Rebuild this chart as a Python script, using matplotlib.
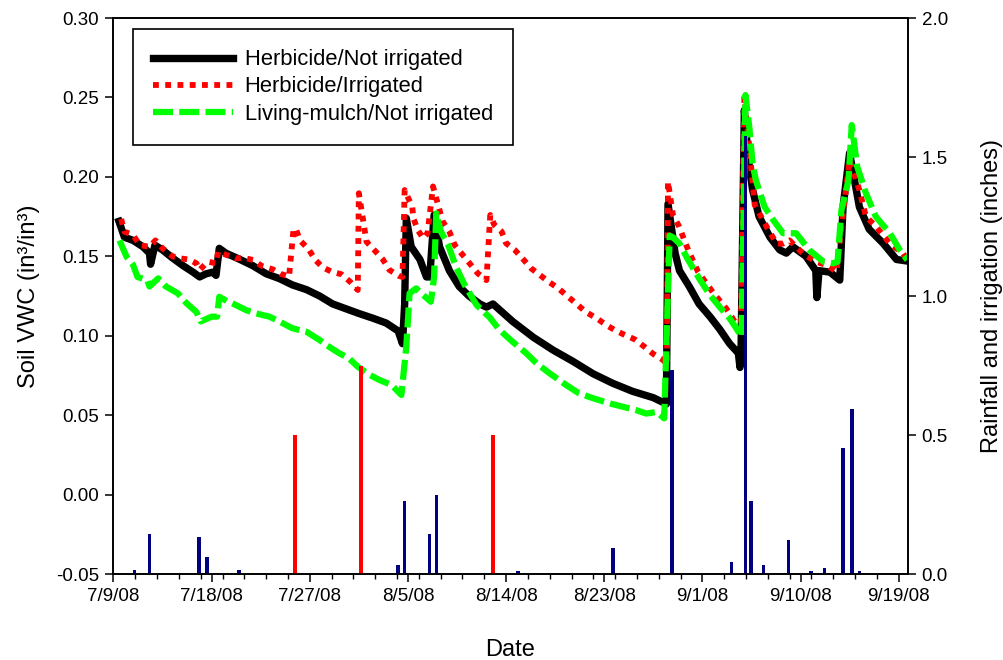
import datetime as dt

import matplotlib
matplotlib.use("Agg")
import matplotlib.pyplot as plt
import matplotlib.dates as mdates
import numpy as np
from matplotlib.ticker import FuncFormatter, FormatStrFormatter

plt.rcParams["font.family"] = ["Liberation Sans", "DejaVu Sans"]
plt.rcParams["axes.unicode_minus"] = False

START = dt.datetime(2008, 7, 9)

# soil water content (days after 7/9/08, in3/in3)
black_day = [0.5, 1.0, 1.8, 2.7, 3.3, 3.4, 3.8, 4.5, 5.4, 6.4, 7.3, 7.9, 8.5, 9.1, 9.4,
             9.7, 10.3, 11.6, 12.8, 14.0, 15.2, 16.4, 17.7, 18.9, 20.1, 21.3, 22.5, 23.8,
             25.0, 26.1, 26.5, 26.7, 26.85, 27.3, 28.1, 28.7, 29.0, 29.4, 29.9, 30.8,
             31.7, 32.6, 33.6, 34.2, 34.8, 36.6, 38.5, 40.3, 42.1, 44.0, 45.8, 47.6,
             49.5, 50.7, 50.85, 51.5, 51.9, 52.8, 53.7, 54.7, 55.6, 56.5, 57.3, 57.45,
             57.55, 57.85, 58.2, 58.6, 59.2, 60.2, 61.1, 61.7, 62.3, 63.5, 64.4, 64.5,
             64.7, 65.7, 66.6, 66.9, 67.5, 68.4, 69.3, 70.6, 71.8, 72.8]
black_vwc = [0.172, 0.162, 0.160, 0.156, 0.152, 0.145, 0.157, 0.154, 0.149, 0.144, 0.140,
             0.137, 0.139, 0.140, 0.138, 0.155, 0.152, 0.148, 0.144, 0.139, 0.136, 0.132,
             0.129, 0.125, 0.120, 0.117, 0.114, 0.111, 0.108, 0.103, 0.095, 0.120, 0.174,
             0.156, 0.148, 0.137, 0.137, 0.176, 0.156, 0.141, 0.131, 0.125, 0.120, 0.118,
             0.120, 0.109, 0.099, 0.091, 0.084, 0.076, 0.070, 0.065, 0.061, 0.057, 0.183,
             0.152, 0.141, 0.131, 0.120, 0.112, 0.104, 0.095, 0.089, 0.080, 0.092, 0.242,
             0.212, 0.192, 0.175, 0.162, 0.154, 0.152, 0.156, 0.150, 0.141, 0.124, 0.141,
             0.140, 0.135, 0.181, 0.215, 0.181, 0.167, 0.158, 0.148, 0.147]

red_day = [0.7, 1.0, 1.8, 2.4, 3.3, 3.85, 4.5, 5.4, 6.1, 6.9, 7.6, 7.9, 8.65, 9.4, 9.6,
           10.3, 11.2, 11.9, 12.8, 13.6, 14.6, 15.3, 16.1, 16.5, 16.7, 17.1, 17.9, 18.5,
           19.2, 20.0, 20.9, 21.7, 22.4, 22.5, 23.2, 24.0, 24.7, 25.3, 26.2, 26.5, 26.7,
           27.4, 27.5, 27.9, 28.4, 28.8, 29.3, 29.9, 30.2, 30.8, 31.3, 31.9, 32.65, 33.4,
           34.2, 34.55, 34.9, 35.6, 36.0, 36.8, 37.5, 38.3, 39.1, 39.9, 40.8, 41.6, 42.4,
           43.3, 44.3, 45.2, 45.95, 46.9, 47.8, 48.7, 49.5, 50.4, 50.75, 50.85, 51.3,
           51.85, 52.7, 53.6, 55.0, 56.2, 56.95, 57.55, 57.85, 58.3, 58.8, 59.9, 60.8,
           61.4, 62.0, 63.2, 64.4, 65.4, 66.3, 66.75, 67.2, 67.5, 68.1, 68.4, 69.0, 69.95,
           71.2, 72.4, 72.8]
red_vwc = [0.1735, 0.1655, 0.1634, 0.157, 0.156, 0.160, 0.155, 0.150, 0.1487, 0.148,
           0.1456, 0.1414, 0.1466, 0.1456, 0.153, 0.151, 0.1487, 0.149, 0.1477, 0.1439,
           0.1418, 0.139, 0.1372, 0.1666, 0.1676, 0.160, 0.1544, 0.1477, 0.143, 0.1403,
           0.1387, 0.134, 0.1288, 0.1897, 0.1592, 0.1533, 0.148, 0.1414, 0.1376, 0.137,
           0.1917, 0.181, 0.174, 0.1666, 0.1613, 0.1645, 0.194, 0.179, 0.1718, 0.1655,
           0.157, 0.1519, 0.1456, 0.1393, 0.135, 0.176, 0.170, 0.1655, 0.1582, 0.154,
           0.1487, 0.1424, 0.1382, 0.134, 0.1298, 0.125, 0.1204, 0.115, 0.111, 0.1067,
           0.1036, 0.1004, 0.0977, 0.093, 0.0885, 0.0847, 0.082, 0.197, 0.176, 0.169,
           0.154, 0.1403, 0.127, 0.117, 0.109, 0.108, 0.250, 0.219, 0.1823, 0.1686, 0.158,
           0.158, 0.160, 0.1519, 0.1466, 0.1445, 0.1403, 0.1686, 0.1938, 0.2106, 0.198,
           0.1917, 0.175, 0.1686, 0.158, 0.1519, 0.1477]

green_day = [0.55, 1.2, 1.8, 2.2, 3.1, 3.3, 4.1, 4.8, 5.9, 6.7, 7.6, 8.0, 9.0, 9.5, 9.7,
             10.5, 10.9, 12.2, 13.1, 14.3, 15.2, 16.4, 17.7, 18.9, 19.5, 20.7, 21.6, 22.4,
             23.5, 24.4, 25.5, 26.4, 26.85, 27.15, 27.75, 28.4, 29.1, 29.4, 29.6, 30.0,
             30.7, 31.4, 32.2, 33.3, 34.5, 35.4, 36.6, 37.85, 38.8, 40.0, 41.5, 42.7,
             44.0, 45.5, 46.7, 47.9, 48.85, 49.8, 50.5, 51.0, 51.3, 51.9, 52.7, 53.8,
             54.7, 55.6, 56.5, 57.1, 57.6, 57.95, 58.3, 58.6, 58.9, 59.7, 60.5, 61.4,
             62.6, 63.8, 65.1, 66.0, 66.4, 66.75, 67.4, 67.7, 68.2, 69.0, 69.9, 71.2,
             72.1, 72.8]
green_vwc = [0.160, 0.1497, 0.1445, 0.137, 0.135, 0.131, 0.1361, 0.131, 0.1267, 0.1204,
             0.115, 0.109, 0.112, 0.112, 0.1245, 0.1214, 0.1204, 0.116, 0.114, 0.112,
             0.109, 0.1047, 0.1025, 0.0973, 0.0942, 0.089, 0.0857, 0.0805, 0.0753, 0.0721,
             0.069, 0.0627, 0.0931, 0.1267, 0.1298, 0.1256, 0.1214, 0.137, 0.177, 0.166,
             0.157, 0.1434, 0.132, 0.1193, 0.1115, 0.1036, 0.0962, 0.089, 0.0826, 0.0763,
             0.069, 0.0637, 0.0606, 0.0574, 0.0553, 0.0532, 0.051, 0.052, 0.048, 0.163,
             0.162, 0.158, 0.1477, 0.135, 0.1256, 0.118, 0.111, 0.1047, 0.0994, 0.2515,
             0.2316, 0.2085, 0.198, 0.1812, 0.1728, 0.1645, 0.1645, 0.154, 0.1466, 0.1456,
             0.1466, 0.179, 0.198, 0.2326, 0.2064, 0.1897, 0.175, 0.1645, 0.154, 0.1477]

# rainfall and irrigation events (days after 7/9/08, inches)
rain_day = [1.93, 3.3, 7.83, 8.57, 11.5, 26.1, 26.7, 29.0, 29.6, 37.1, 45.8, 51.2,
            56.65, 57.96, 58.45, 59.6, 61.9, 63.95, 65.2, 66.9, 67.7, 68.4]
rain_in = [0.015, 0.144, 0.133, 0.062, 0.015, 0.032, 0.263, 0.144, 0.283, 0.012, 0.092,
           0.734, 0.042, 1.576, 0.263, 0.032, 0.122, 0.012, 0.022, 0.452, 0.592, 0.012]
irr_day = [16.67, 22.7, 34.8]
irr_in = [0.5, 0.75, 0.5]

t0 = mdates.date2num(START)


def to_x(days):
    return t0 + np.asarray(days)


fig = plt.figure(figsize=(10.04, 6.6), dpi=100)
ax = fig.add_axes([0.1125, 0.1303, 0.7918, 0.8424])

ax.plot(to_x(black_day), black_vwc, color="black", lw=5.3, label="Herbicide/Not irrigated")
ax.plot(to_x(red_day), red_vwc, color="#ff0000", lw=4.2, linestyle=(0, (1, 1.1)),
        dash_capstyle="butt", label="Herbicide/Irrigated")
ax.plot(to_x(green_day), green_vwc, color="#00ff00", lw=4.5, linestyle=(0, (3.2, 1.0)),
        dash_capstyle="butt", label="Living-mulch/Not irrigated")

ax.set_xlim(t0 - 0.05, t0 + 72.85)
ax.set_ylim(-0.05, 0.30)
ax.set_yticks(np.round(np.arange(-0.05, 0.301, 0.05), 2))
ax.yaxis.set_major_formatter(FormatStrFormatter("%.2f"))

ax.set_xticks(to_x(np.arange(0, 73, 9)))
ax.set_xticks(to_x(np.arange(0, 73, 2)), minor=True)


def date_fmt(v, pos):
    d = mdates.num2date(v)
    return f"{d.month}/{d.day}/{d:%y}"


ax.xaxis.set_major_formatter(FuncFormatter(date_fmt))

ax2 = ax.twinx()
ax2.bar(to_x(rain_day), rain_in, width=0.32, color="#000080")
ax2.bar(to_x(irr_day), irr_in, width=0.4, color="#ff0000")
ax2.set_ylim(0, 2.0)
ax2.set_yticks(np.arange(0, 2.01, 0.5))
ax2.yaxis.set_major_formatter(FormatStrFormatter("%.1f"))

for a in (ax, ax2):
    a.tick_params(which="major", direction="out", length=5.8, width=1.1, labelsize=13.5, pad=4)
    a.tick_params(which="minor", direction="out", length=3.5, width=1.0)
    for s in a.spines.values():
        s.set_linewidth(1.2)

ax.set_xlabel("Date", fontsize=17, labelpad=25)
ax.set_ylabel("Soil VWC (in³/in³)", fontsize=17, labelpad=12)
ax2.set_ylabel("Rainfall and irrigation (inches)", fontsize=17, labelpad=24)

leg = ax.legend(loc="upper left", bbox_to_anchor=(0.025, 0.98), borderaxespad=0,
                fontsize=15.8, handlelength=3.63, handletextpad=0.55, labelspacing=0.28,
                borderpad=0.92, fancybox=False, framealpha=1, edgecolor="black")
leg.get_frame().set_linewidth(1.2)

fig.savefig("out.png", dpi=100)
